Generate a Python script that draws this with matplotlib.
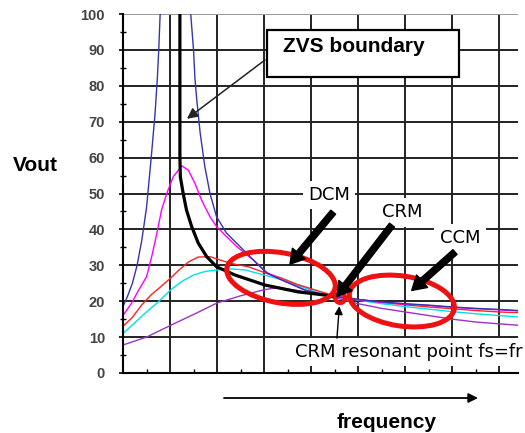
import matplotlib
matplotlib.use("Agg")
import matplotlib.pyplot as plt
from matplotlib.patches import Ellipse, Rectangle, FancyArrowPatch
from matplotlib.transforms import ScaledTranslation

# ---------------- data ----------------
blue_x = [0, 0.1, 0.2, 0.3, 0.4, 0.5, 0.6, 0.68, 0.73, 0.76, 0.79, 0.82,
          1.42, 1.44, 1.5, 1.53, 1.57, 1.64, 1.74, 1.85, 1.99, 2.2, 2.49, 2.77,
          3.06, 3.38, 3.87, 4.3, 4.5, 5.0, 5.5, 6.0, 6.5, 7.0, 7.5, 8.0, 8.4]
blue_y = [18.5, 21.5, 25, 30, 37, 46, 60, 72, 82, 90, 100, 115,
          115, 100, 90, 82, 76, 67, 57.5, 50, 43.5, 39, 35.2, 31.5,
          27.8, 25.9, 23.1, 21.7, 21.3, 20.5, 19.8, 19.3, 18.9, 18.4, 18.0, 17.7, 17.4]

magenta_x = [0, 0.18, 0.33, 0.5, 0.61, 0.72, 0.82, 0.93, 1.07, 1.25, 1.39, 1.53,
             1.67, 1.85, 1.99, 2.2, 2.42, 2.77, 3.06, 3.38, 3.87, 4.3, 4.5, 5.0,
             5.5, 6.0, 6.5, 7.0, 7.5, 8.0, 8.4]
magenta_y = [16, 19.4, 23, 26.8, 32.4, 38.9, 45.4, 50, 54.7, 57.7, 56.5, 52.8,
             48.2, 43.5, 40.8, 38, 35.2, 31.5, 28, 25.9, 23.1, 21.7, 21.2, 20.4,
             19.7, 19.2, 18.8, 18.3, 17.9, 17.6, 17.3]

red_x = [0, 0.2, 0.4, 0.6, 0.8, 1.0, 1.2, 1.4, 1.6, 1.85, 2.06, 2.3, 2.66, 3.0,
         3.38, 3.7, 4.09, 4.5, 5.0, 5.5, 6.0, 6.5, 7.0, 7.5, 8.0, 8.4]
red_y = [13, 15.5, 19, 21.8, 24, 26.3, 28.8, 31, 32.3, 32.4, 31.5, 30.5, 29.6, 28,
         26.4, 24.7, 23.1, 21.5, 20.5, 19.7, 19.0, 18.4, 17.9, 17.4, 17.0, 16.8]

cyan_x = [0, 0.25, 0.5, 0.75, 1.0, 1.25, 1.5, 1.75, 2.0, 2.3, 2.6, 3.0, 3.4, 3.8,
          4.1, 4.5, 5.0, 5.5, 6.0, 6.5, 7.0, 7.5, 8.0, 8.4]
cyan_y = [11, 14, 17, 19.8, 23, 25.5, 27.3, 28.3, 28.7, 29, 28.7, 27.3, 25.9, 24,
          22.6, 21.3, 20.3, 19.3, 18.5, 17.8, 17.1, 16.5, 16.0, 15.6]

purple_x = [0, 0.5, 1.0, 1.5, 2.0, 2.5, 3.0, 3.3, 3.7, 4.1, 4.5, 5.0, 5.5, 6.0,
            6.5, 7.0, 7.5, 8.0, 8.4]
purple_y = [7.8, 10, 13.2, 16.3, 19.5, 21.5, 23.2, 23.8, 23.0, 22.0, 21.0, 19.3,
            18.0, 17.0, 16.0, 15.0, 14.2, 13.7, 13.3]

zvs_x = [1.21, 1.21, 1.22, 1.28, 1.35, 1.46, 1.6, 1.78, 1.99, 2.38, 3.02, 3.72, 4.3, 4.47]
zvs_y = [110, 60, 54.6, 50, 45.4, 40.8, 36.2, 32.4, 29.6, 27.3, 24.5, 22.6, 21.7, 21.2]

y_ticks = [0, 10, 20, 30, 40, 50, 60, 70, 80, 90, 100]
y_ticklabels = [str(v) for v in y_ticks]

# ---------------- figure ----------------
W, H = 525, 433
fig = plt.figure(figsize=(W / 100, H / 100), dpi=100)
fig.patch.set_facecolor("white")

def fx(px):
    return px / W

def fy(py):
    return 1 - py / H

ax = fig.add_axes([fx(123), fy(373), (518 - 123) / W, (373 - 14) / H])
ax.set_xlim(0, 8.4)
ax.set_ylim(0, 100)

ax.set_xticks(range(0, 9))
ax.set_xticks([i + 0.5 for i in range(0, 8)], minor=True)
ax.set_yticks(y_ticks)
ax.set_yticklabels(y_ticklabels, fontfamily="Liberation Sans", fontweight="bold",
                   fontsize=10.5, color="#444444")
ax.set_yticks([v + 5 for v in y_ticks[:-1]], minor=True)
ax.set_xticklabels([])
ax.tick_params(axis="y", which="major", direction="out", length=3, width=1.2, pad=10)
ax.tick_params(axis="y", which="minor", direction="inout", length=5, width=1.0)
ax.tick_params(axis="x", which="major", direction="in", length=0)
ax.tick_params(axis="x", which="minor", direction="in", length=3, width=1.0)

ax.grid(True, which="major", color="#222222", linewidth=1.4)
ax.yaxis.get_gridlines()[-1].set_color("#999999")
for s in ["top", "right"]:
    ax.spines[s].set_visible(False)
for s in ["left", "bottom"]:
    ax.spines[s].set_linewidth(1.5)
    ax.spines[s].set_color("black")

# curves
ax.plot(purple_x, purple_y, color="#9933cc", lw=1.0)
ax.plot(cyan_x, cyan_y, color="#00e0e8", lw=1.0)
ax.plot(red_x, red_y, color="#ff2222", lw=1.0)
ax.plot(magenta_x, magenta_y, color="#ff00ff", lw=1.0)
ax.plot(blue_x, blue_y, color="#3535b0", lw=1.0)
ax.plot(zvs_x, zvs_y, color="black", lw=2.3)

# red ellipses (sizes in inches so the shape is pixel-true)
def ell(cx, cy, w, h, ang, lw=3.6):
    e = Ellipse((0, 0), w, h, angle=ang, fill=False, edgecolor="#ee1111", lw=lw,
                transform=fig.dpi_scale_trans + ScaledTranslation(cx, cy, ax.transData),
                zorder=5)
    ax.add_artist(e)

ell(3.36, 26.5, 1.10, 0.50, -10.5)
ell(5.93, 20.05, 1.06, 0.50, -8.5)
ell(4.62, 20.9, 0.10, 0.10, 0, lw=3.0)

# labels with white boxes
txt_kw = dict(fontfamily="DejaVu Sans", fontsize=13, color="black", zorder=4,
              bbox=dict(boxstyle="square,pad=0.3", fc="white", ec="none"))
ax.text(4.38, 49.6, "DCM", ha="center", va="center", **txt_kw)
ax.text(5.94, 44.8, "CRM", ha="center", va="center", **txt_kw)
ax.text(7.17, 37.6, "CCM", ha="center", va="center", **txt_kw)
ax.text(3.66, 5.85, "CRM resonant point fs=fr", ha="left", va="center",
        clip_on=False, **txt_kw)

# thick arrows
thick = dict(facecolor="black", edgecolor="black", width=4.5, headwidth=12,
             headlength=10, shrink=0)
ax.annotate("", xy=(3.55, 30.3), xytext=(4.47, 44.8), arrowprops=thick, zorder=6)
ax.annotate("", xy=(4.55, 21.3), xytext=(5.72, 41.2), arrowprops=thick, zorder=6)
ax.annotate("", xy=(6.14, 23.0), xytext=(7.06, 33.7), arrowprops=thick, zorder=6)

# thin arrows
ax.annotate("", xy=(4.6, 18.6), xytext=(4.55, 9.7),
            arrowprops=dict(arrowstyle="-|>", color="black", lw=1.0,
                            mutation_scale=12, shrinkA=0, shrinkB=0), zorder=6)
ax.annotate("", xy=(1.36, 70.8), xytext=(3.02, 87.2),
            arrowprops=dict(arrowstyle="-|>", color="#222222", lw=1.1,
                            mutation_scale=16, shrinkA=0, shrinkB=0), zorder=6)

# ZVS boundary box
fig.add_artist(Rectangle((fx(267), fy(77)), (459 - 267) / W, (77 - 30) / H,
                         transform=fig.transFigure, facecolor="white",
                         edgecolor="black", lw=1.6, zorder=5))
fig.text(fx(283), fy(46), "ZVS boundary", fontfamily="Liberation Sans",
         fontweight="bold", fontsize=15, ha="left", va="center", zorder=6)

# axis titles
fig.text(fx(35), fy(165), "Vout", fontfamily="Liberation Sans", fontweight="bold",
         fontsize=15, ha="center", va="center")
fig.text(fx(387), fy(423), "frequency", fontfamily="Liberation Sans",
         fontweight="bold", fontsize=15, ha="center", va="center")

# frequency arrow
fig.add_artist(FancyArrowPatch((fx(224), fy(398)), (fx(478), fy(398)),
                               transform=fig.transFigure, arrowstyle="-|>",
                               mutation_scale=14, lw=1.3, color="black",
                               shrinkA=0, shrinkB=0))

fig.savefig("out.png", dpi=100, facecolor="white")
